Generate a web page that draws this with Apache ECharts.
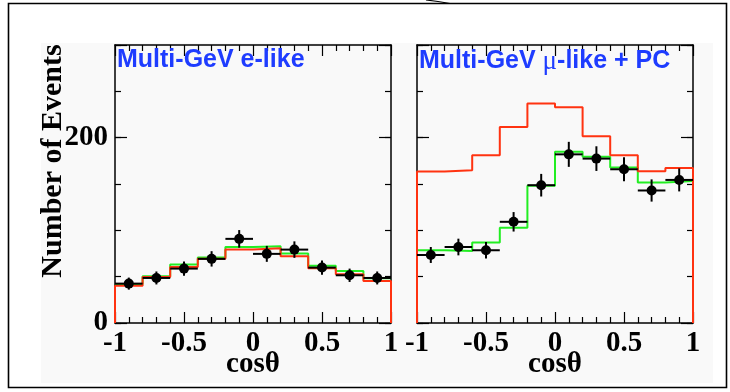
<!DOCTYPE html>
<html>
<head>
<meta charset="utf-8">
<script src="https://cdn.jsdelivr.net/npm/echarts@6.0.0/dist/echarts.min.js"></script>
<style>
  html, body { margin: 0; padding: 0; background: #fff; }
  #chart { width: 730px; height: 392px; }
</style>
</head>
<body>
<div id="chart"></div>
<script>
// bins in cos(theta)
const binEdges = [-1, -0.8, -0.6, -0.4, -0.2, 0, 0.2, 0.4, 0.6, 0.8, 1]
const binCenters = [-0.9, -0.7, -0.5, -0.3, -0.1, 0.1, 0.3, 0.5, 0.7, 0.9]

// Multi-GeV e-like
const eData = [42.5, 48.6, 58.7, 69.2, 90.8, 74.6, 79.2, 59.8, 51.5, 48.6]
const eErr = [6.5, 7, 7.7, 8.3, 9.5, 8.6, 8.9, 7.7, 7.2, 7]
const eGreen = [42.1, 50.4, 63, 70.6, 82.1, 82.8, 74.9, 61.9, 56.2, 48.2]
const eRed = [40.3, 49.7, 60.5, 69.2, 79.2, 80.7, 72, 59, 52.6, 45.4]

// Multi-GeV mu-like + PC
const muData = [73.4, 82, 78.5, 109.2, 148.7, 182, 177.4, 165.9, 143, 154.4]
const muErr = [8.6, 9, 8.9, 10.5, 12.2, 13.5, 13.3, 12.9, 12, 12.4]
const muGreen = [78.5, 77.8, 87, 102.8, 148, 184.9, 179.5, 167.7, 151.6, 153.3]
const muRed = [163.4, 164.8, 181, 211.4, 236.9, 232.9, 201.4, 181, 163.8, 167.3]

const yTickLabels = [0, 200]
const panelTitles = ['{a|Multi-GeV e-like}', '{a|Multi-GeV }{mu|μ}{a|-like + PC}']

const serif = 'Liberation Serif'
const red = '#ff3311'
const green = '#22ee22'
const blue = '#1e3cff'

const chart = echarts.init(document.getElementById('chart'))

// histogram outline from bin contents
const stepPoints = (vals, closed) => {
    const pts = []
    if (closed) pts.push([binEdges[0], 0])
    vals.forEach((v, i) => {
        pts.push([binEdges[i], v])
        pts.push([binEdges[i + 1], v])
    })
    if (closed) pts.push([binEdges[binEdges.length - 1], 0])
    return pts
}

const halfBin = (binEdges[1] - binEdges[0]) / 2

const renderPoint = (params, api) => {
    const x = api.value(0)
    const y = api.value(1)
    const e = api.value(2)
    const c = api.coord([x, y])
    const l = api.coord([x - halfBin, y])
    const r = api.coord([x + halfBin, y])
    const lo = api.coord([x, y - e])
    const hi = api.coord([x, y + e])
    const st = { stroke: '#000', lineWidth: 2 }
    return {
        type: 'group',
        children: [
            { type: 'line', shape: { x1: l[0], y1: l[1], x2: r[0], y2: r[1] }, style: st },
            { type: 'line', shape: { x1: lo[0], y1: lo[1], x2: hi[0], y2: hi[1] }, style: st },
            { type: 'circle', shape: { cx: c[0], cy: c[1], r: 5 }, style: { fill: '#000' } },
        ],
    }
}

const grids = [
    { left: 115, top: 45, width: 276, height: 278, outerBoundsMode: 'none' },
    { left: 417, top: 45, width: 276, height: 278, outerBoundsMode: 'none' },
]

const xAxes = []
const yAxes = []
grids.forEach((g, gi) => {
    ;['bottom', 'top'].forEach((pos) => {
        xAxes.push({
            type: 'value',
            gridIndex: gi,
            position: pos,
            min: -1,
            max: 1,
            interval: 0.5,
            axisLine: { onZero: false, lineStyle: { color: '#000', width: 1.5 } },
            axisTick: { inside: true, length: 11, lineStyle: { color: '#000', width: 1.2 } },
            minorTick: { show: true, splitNumber: 5, length: 6, lineStyle: { color: '#000', width: 1.2 } },
            splitLine: { show: false },
            axisLabel: {
                show: pos === 'bottom',
                margin: 6,
                color: '#000',
                fontFamily: serif,
                fontWeight: 'bold',
                fontSize: 29,
            },
            name: pos === 'bottom' ? 'cosθ' : '',
            nameLocation: 'middle',
            nameGap: 27,
            nameMoveOverlap: false,
            nameTextStyle: { color: '#000', fontFamily: serif, fontWeight: 'bold', fontSize: 29 },
        })
    })
    ;['left', 'right'].forEach((pos) => {
        // minor ticks every 50
        yAxes.push({
            type: 'value',
            gridIndex: gi,
            position: pos,
            min: 0,
            max: 300,
            interval: 50,
            axisLine: { onZero: false, lineStyle: { color: '#000', width: 1.5 } },
            axisTick: { inside: true, length: 6, lineStyle: { color: '#000', width: 1.2 } },
            splitLine: { show: false },
            axisLabel: { show: false },
        })
        // major ticks and labels
        yAxes.push({
            type: 'value',
            gridIndex: gi,
            position: pos,
            min: 0,
            max: 300,
            interval: 200,
            axisLine: { show: false, onZero: false },
            axisTick: { inside: true, length: 12, lineStyle: { color: '#000', width: 1.2 } },
            splitLine: { show: false },
            axisLabel: {
                show: gi === 0 && pos === 'left',
                margin: 7,
                color: '#000',
                fontFamily: serif,
                fontWeight: 'bold',
                fontSize: 29,
                formatter: (v) => (yTickLabels.includes(v) ? String(v) : ''),
            },
        })
    })
})

const panels = [
    { data: eData, err: eErr, green: eGreen, red: eRed },
    { data: muData, err: muErr, green: muGreen, red: muRed },
]

const series = []
panels.forEach((p, pi) => {
    const xi = pi * 2
    const yi = pi * 4
    series.push({
        type: 'line',
        xAxisIndex: xi,
        yAxisIndex: yi,
        data: stepPoints(p.green, false),
        showSymbol: false,
        lineStyle: { color: green, width: 2 },
        z: 3,
    })
    series.push({
        type: 'line',
        xAxisIndex: xi,
        yAxisIndex: yi,
        data: stepPoints(p.red, true),
        showSymbol: false,
        lineStyle: { color: red, width: 2 },
        z: 4,
    })
    series.push({
        type: 'custom',
        xAxisIndex: xi,
        yAxisIndex: yi,
        renderItem: renderPoint,
        data: binCenters.map((x, i) => [x, p.data[i], p.err[i]]),
        z: 5,
    })
})

const titleRich = {
    a: { color: blue, fontFamily: 'Liberation Sans', fontWeight: 'bold', fontSize: 25 },
    mu: { color: blue, fontFamily: serif, fontWeight: 'normal', fontSize: 27 },
}

chart.setOption({
    animation: false,
    backgroundColor: '#fff',
    title: grids.map((g, i) => ({
        text: panelTitles[i],
        left: g.left + 2,
        top: 48,
        padding: 0,
        textStyle: { fontWeight: 'normal', rich: titleRich },
    })),
    graphic: [
        {
            type: 'rect',
            z: -10,
            shape: { x: 41, y: 43, width: 672, height: 340 },
            style: { fill: '#f9f9f9' },
        },
        {
            type: 'rect',
            z: -9,
            shape: { x: 8.5, y: 3.5, width: 718, height: 384 },
            style: { fill: 'none', stroke: '#000', lineWidth: 1.6 },
        },
        {
            type: 'polyline',
            shape: { points: [[426, 0], [438, 1.5], [450, 3.5]] },
            style: { fill: 'none', stroke: '#000', lineWidth: 1.2 },
        },
        {
            type: 'text',
            x: 53,
            y: 161,
            rotation: Math.PI / 2,
            style: {
                text: 'Number of Events',
                fill: '#000',
                font: 'bold 30px "Liberation Serif"',
                textAlign: 'center',
                textVerticalAlign: 'middle',
            },
        },
    ],
    grid: grids,
    xAxis: xAxes,
    yAxis: yAxes,
    series,
})
</script>
</body>
</html>
